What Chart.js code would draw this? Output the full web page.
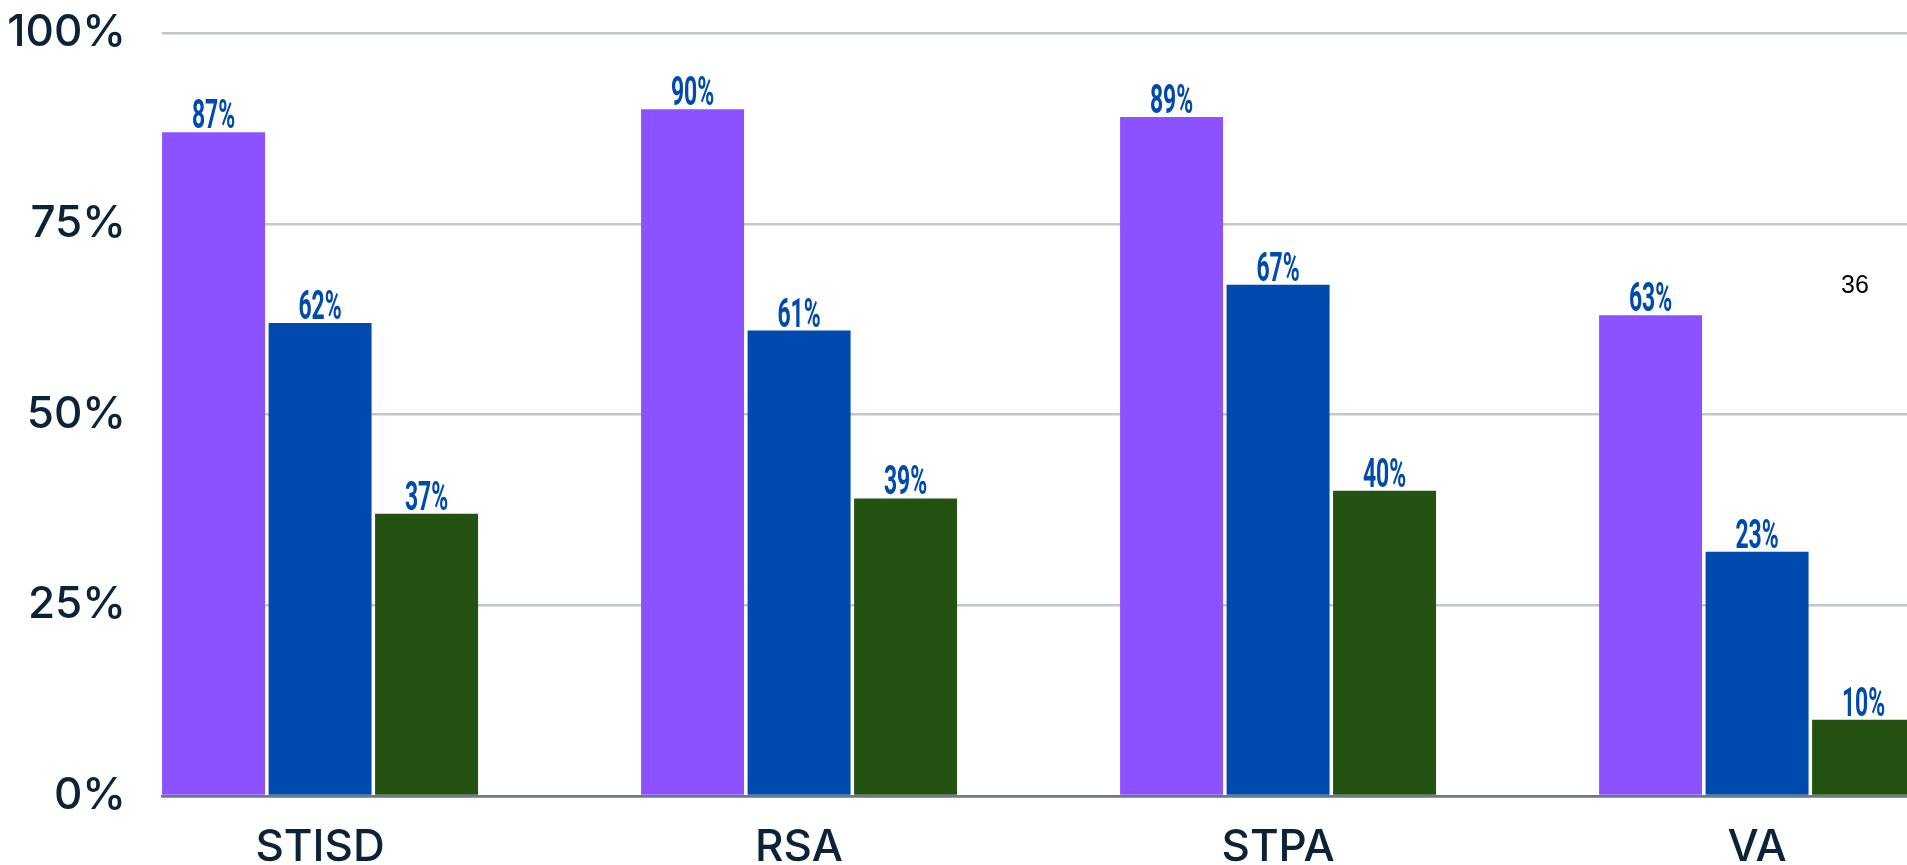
<!DOCTYPE html>
<html>
<head>
<meta charset="utf-8">
<script src="https://cdn.jsdelivr.net/npm/chart.js@4.4.1/dist/chart.umd.min.js"></script>
<style>
  html, body { margin: 0; padding: 0; background: #fff; overflow: hidden; }
  #wrap { position: relative; width: 1907px; height: 865px; }
  #note { position: absolute; left: 1841px; top: 270px; font: 25px "Liberation Sans", Arial, sans-serif; color: #000; }
</style>
</head>
<body>
<div id="wrap">
  <canvas id="myChart"></canvas>
  <div id="note">36</div>
</div>
<script>
// categories and series (bar heights)
const categories = ['STISD', 'RSA', 'STPA', 'VA'];
const purpleValues = [87, 90, 89, 63];
const blueValues = [62, 61, 67, 32];
const greenValues = [37, 39, 40, 10];
// text printed above each bar
const purpleText = ['87%', '90%', '89%', '63%'];
const blueText = ['62%', '61%', '67%', '23%'];
const greenText = ['37%', '39%', '40%', '10%'];
const yTicks = [0, 25, 50, 75, 100];

const labelColor = '#004aad';
const axisText = '#0c2236';

function points(vals) {
    return vals.map(function (v, i) { return { x: i, y: v }; });
}

// draws the condensed value labels over the bars
const barLabels = {
    id: 'barLabels',
    afterDatasetsDraw(chart) {
        const ctx = chart.ctx;
        const texts = [purpleText, blueText, greenText];
        ctx.save();
        ctx.fillStyle = labelColor;
        ctx.font = '700 41px Roboto';
        ctx.textAlign = 'center';
        ctx.textBaseline = 'alphabetic';
        chart.data.datasets.forEach(function (ds, di) {
            const meta = chart.getDatasetMeta(di);
            meta.data.forEach(function (bar, i) {
                ctx.save();
                ctx.translate(bar.x, bar.y - 4);
                ctx.scale(0.56, 1);
                ctx.fillText(texts[di][i], 0, 0);
                ctx.restore();
            });
        });
        ctx.restore();
    }
};

var ctx = document.getElementById('myChart').getContext('2d');
var chart = new Chart(ctx, {
    type: 'bar',
    data: {
        datasets: [
            { data: points(purpleValues), backgroundColor: '#8c52ff' },
            { data: points(blueValues), backgroundColor: '#004aad' },
            { data: points(greenValues), backgroundColor: '#235213' }
        ]
    },
    options: {
        responsive: true,
        maintainAspectRatio: false,
        animation: false,
        layout: { padding: { top: 33, right: 0, left: 0, bottom: 0 } },
        datasets: {
            bar: { categoryPercentage: 0.667, barPercentage: 0.967, borderWidth: 0 }
        },
        plugins: {
            legend: { display: false },
            tooltip: { enabled: false }
        },
        scales: {
            x: {
                type: 'linear',
                offset: false,
                min: -0.33,
                max: 3.313,
                grid: { display: false, drawTicks: false },
                border: { display: true, color: '#6b7a83', width: 2.5 },
                ticks: {
                    stepSize: 1,
                    includeBounds: false,
                    autoSkip: false,
                    maxRotation: 0,
                    padding: 25,
                    color: axisText,
                    font: { family: 'Inter', size: 44, weight: '500' },
                    callback: function (v) {
                        return Number.isInteger(v) && categories[v] ? categories[v] : '';
                    }
                },
                afterFit: function (scale) { scale.height = 69; scale.paddingLeft = 0; scale.paddingRight = 0; }
            },
            y: {
                min: 0,
                max: 100,
                afterBuildTicks: function (scale) {
                    scale.ticks = yTicks.map(function (v) { return { value: v }; });
                },
                grid: {
                    drawTicks: false,
                    lineWidth: 2.5,
                    color: function (c) { return c.tick && c.tick.value === 0 ? '#6b7a83' : '#c2c7cc'; }
                },
                border: { display: false },
                ticks: {
                    padding: 36,
                    color: axisText,
                    font: { family: 'Inter', size: 44, weight: '500' },
                    callback: function (v) { return v + '%'; }
                },
                afterFit: function (scale) { scale.width = 162; scale.paddingTop = 0; scale.paddingBottom = 0; }
            }
        }
    },
    plugins: [barLabels]
});
</script>
</body>
</html>
